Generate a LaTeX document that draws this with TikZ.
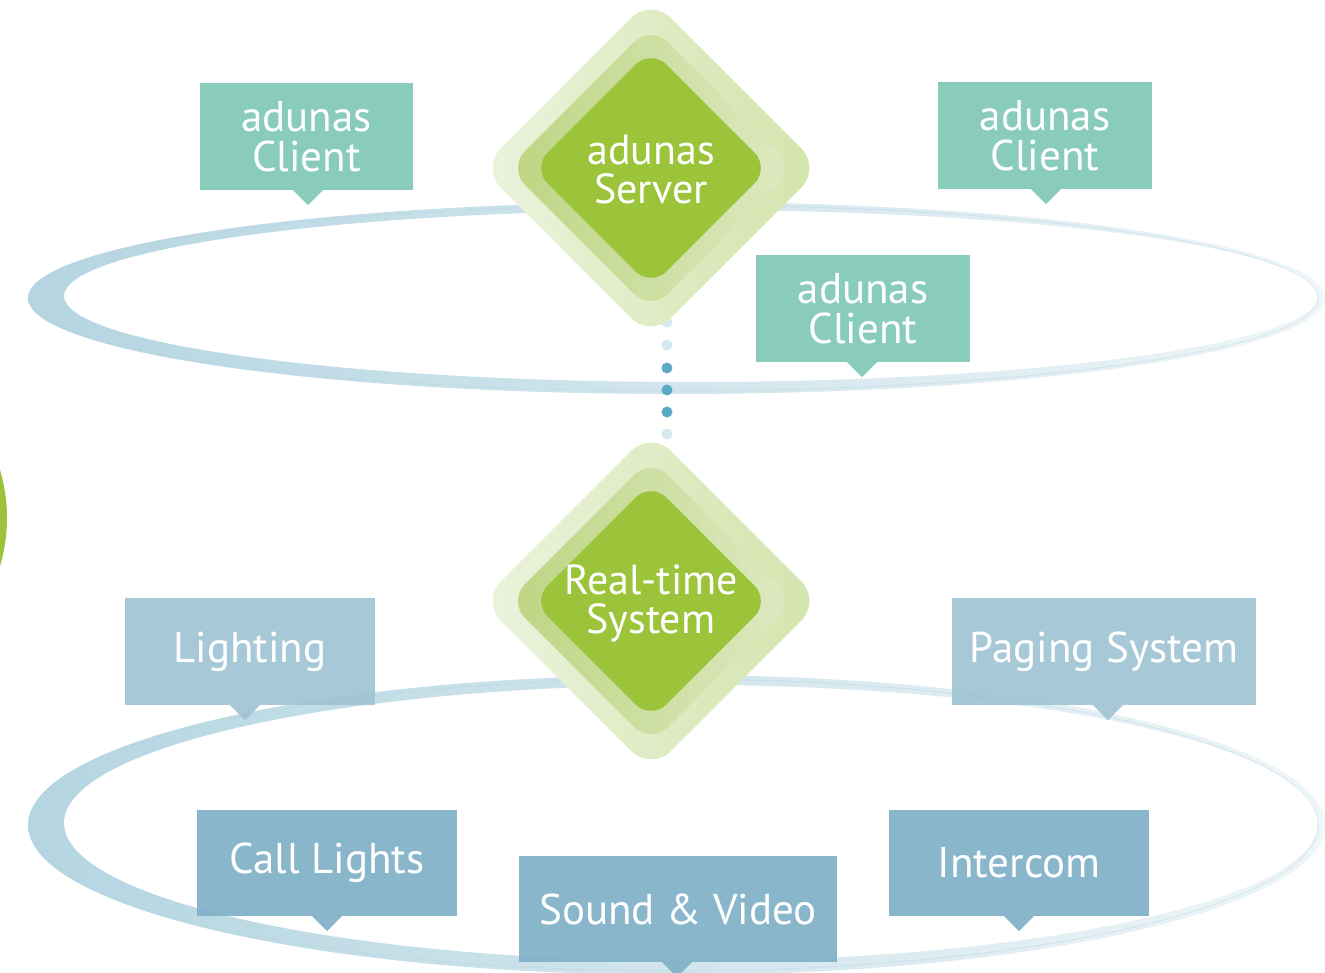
\documentclass[tikz,border=0pt]{standalone}
\usepackage{fontspec}
\setmainfont{PT Sans}
\usetikzlibrary{shapes.geometric}
\definecolor{ringc}{HTML}{B4D5E1}
\definecolor{ringl}{HTML}{EFF6F8}
\definecolor{tealbox}{HTML}{80C8B6}
\definecolor{lightbox}{HTML}{A0C4D4}
\definecolor{bluebox}{HTML}{80B0C8}
\definecolor{gemin}{HTML}{9CC43A}
\definecolor{dotd}{HTML}{5AAAC6}
\definecolor{dotl}{HTML}{D4E8EF}
\definecolor{gemoutl}{HTML}{EBF3DD}
\definecolor{gemoutr}{HTML}{D4E4AC}
\definecolor{gemmidl}{HTML}{BDD583}
\definecolor{gemmidr}{HTML}{DEE9C2}
\tikzset{
  x=1pt, y=-1pt,
  callout/.style={rectangle, inner sep=0pt, text=white, align=center,
    font=\fontsize{43}{40}\selectfont, fill opacity=0.92, text opacity=1},
  gemouter/.style={diamond, aspect=1, inner sep=0pt, minimum size=340pt,
    rounded corners=28pt, left color=gemoutl, right color=gemoutr},
  gemmid/.style={diamond, aspect=1, inner sep=0pt, minimum size=286pt,
    rounded corners=24pt, left color=gemmidl, right color=gemmidr},
  geminner/.style={diamond, aspect=1, inner sep=0pt, minimum size=238pt,
    rounded corners=22pt, fill=gemin},
  gemtext/.style={text=white, align=center, font=\fontsize{42}{39}\selectfont},
  dotstyle/.style={circle, inner sep=0pt, minimum size=11pt},
}
\begin{document}
\begin{tikzpicture}
\useasboundingbox (0,0) rectangle (1325,973);
% rings
\path[even odd rule, left color=ringc, right color=ringl]
  (676.5,298) ellipse [x radius=648.5, y radius=96]
  (691,296) ellipse [x radius=627, y radius=86];
\draw[ringc, line width=1pt, opacity=0.4] (674,298) ellipse [x radius=644, y radius=93];
\path[even odd rule, left color=ringc, right color=ringl]
  (676.5,825) ellipse [x radius=648.5, y radius=150]
  (691,823) ellipse [x radius=627, y radius=138];
\draw[ringc, line width=1pt, opacity=0.4] (674,825) ellipse [x radius=644, y radius=146];
% green partial circle
\fill[gemin] (-161,518) circle [radius=168];
% dots
\node[dotstyle, fill=dotl] (d1) at (667,322) {};
\node[dotstyle, fill=dotl] (d2) at (667,345) {};
\node[dotstyle, fill=dotd] (d3) at (667,368) {};
\node[dotstyle, fill=dotd] (d4) at (667,390) {};
\node[dotstyle, fill=dotd] (d5) at (667,412) {};
\node[dotstyle, fill=dotl] (d6) at (667,434) {};
% diamonds
\node[gemouter] (s1) at (651,168) {};
\node[gemmid] (s2) at (651,168) {};
\node[geminner] (s3) at (651,168) {};
\node[gemtext] (server) at (651,170) {adunas\\Server};
\node[gemouter] (r1) at (651,601) {};
\node[gemmid] (r2) at (651,601) {};
\node[geminner] (r3) at (651,601) {};
\node[gemtext] (rts) at (651,603) {Real-time\\System};
% client callouts
\node[callout, fill=tealbox, minimum width=213pt, minimum height=107pt] (c1) at (306.5,136.5) {adunas\\Client};
\node[callout, fill=tealbox, minimum width=214pt, minimum height=107pt] (c2) at (1045,135.5) {adunas\\Client};
\node[callout, fill=tealbox, minimum width=214pt, minimum height=107pt] (c3) at (863,308.5) {adunas\\Client};
% system callouts
\node[callout, fill=lightbox, minimum width=250pt, minimum height=107pt] (b1) at (250,651.5) {Lighting};
\node[callout, fill=lightbox, minimum width=304pt, minimum height=107pt] (b2) at (1104,651.5) {Paging System};
\node[callout, fill=bluebox, minimum width=260pt, minimum height=106pt] (b3) at (327,863) {Call Lights};
\node[callout, fill=bluebox, minimum width=318pt, minimum height=106pt] (b4) at (678,909) {Sound \& Video};
\node[callout, fill=bluebox, minimum width=260pt, minimum height=106pt] (b5) at (1019,863) {Intercom};
% pointers
\foreach \n/\c/\dx in {c1/tealbox/1.5, c2/tealbox/1, c3/tealbox/-1, b1/lightbox/-5, b2/lightbox/4, b3/bluebox/0, b4/bluebox/-1, b5/bluebox/0}{
  \fill[\c, fill opacity=0.92] ([xshift=\dx pt-15pt]\n.south) -- ([xshift=\dx pt+15pt]\n.south) -- ([xshift=\dx pt, yshift=-15pt]\n.south) -- cycle;
}
\end{tikzpicture}
\end{document}
